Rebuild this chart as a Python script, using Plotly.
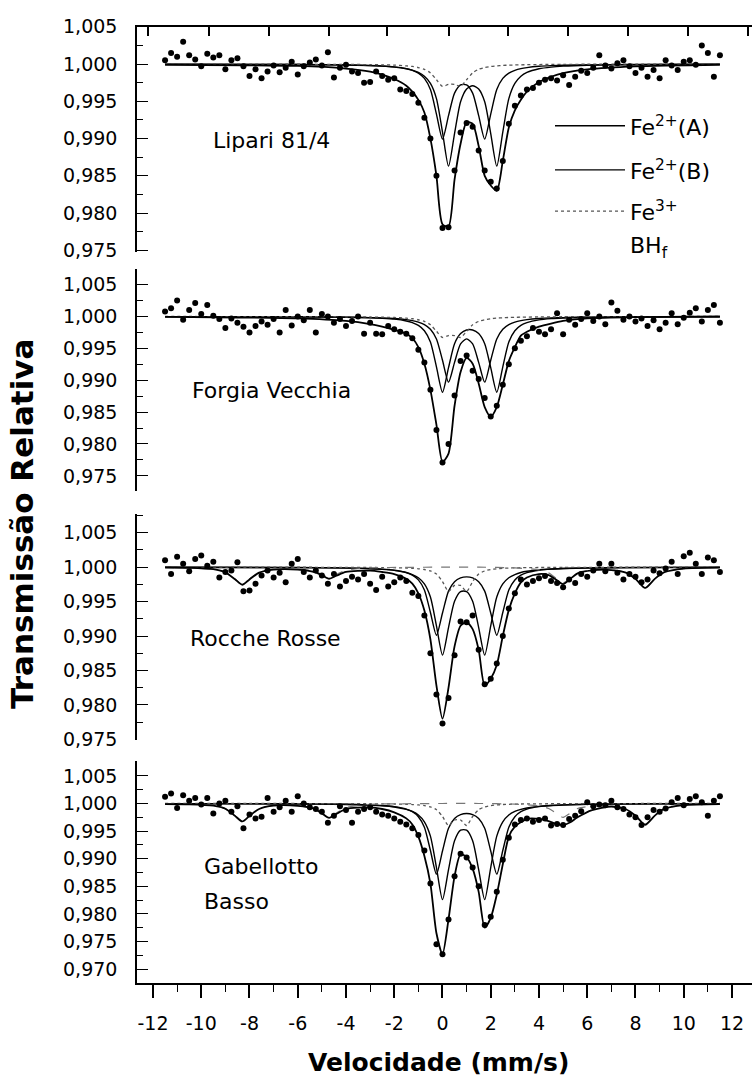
import plotly.graph_objects as go

# ---------------- data ----------------
VEL = [-11.5, -11.25, -11.0, -10.75, -10.5, -10.25, -10.0, -9.75, -9.5, -9.25, -9.0, -8.75,
       -8.5, -8.25, -8.0, -7.75, -7.5, -7.25, -7.0, -6.75, -6.5, -6.25, -6.0, -5.75,
       -5.5, -5.25, -5.0, -4.75, -4.5, -4.25, -4.0, -3.75, -3.5, -3.25, -3.0, -2.75,
       -2.5, -2.25, -2.0, -1.75, -1.5, -1.25, -1.0, -0.75, -0.5, -0.25, 0.0, 0.25,
       0.5, 0.75, 1.0, 1.25, 1.5, 1.75, 2.0, 2.25, 2.5, 2.75, 3.0, 3.25,
       3.5, 3.75, 4.0, 4.25, 4.5, 4.75, 5.0, 5.25, 5.5, 5.75, 6.0, 6.25,
       6.5, 6.75, 7.0, 7.25, 7.5, 7.75, 8.0, 8.25, 8.5, 8.75, 9.0, 9.25,
       9.5, 9.75, 10.0, 10.25, 10.5, 10.75, 11.0, 11.25, 11.5]

P1_DATA = [1.0005, 1.0015, 1.0010, 1.0030, 1.0012, 1.0006, 0.9997, 1.0014,
           1.0009, 1.0012, 0.9993, 1.0005, 1.0008, 0.9997, 0.9984, 0.9993,
           0.9981, 0.9990, 0.9998, 0.9989, 0.9995, 1.0003, 0.9986, 0.9997,
           1.0002, 1.0006, 0.9998, 1.0016, 0.9982, 0.9995, 0.9999, 0.9990,
           0.9988, 0.9975, 0.9976, 0.9990, 0.9984, 0.9979, 0.9981, 0.9966,
           0.9964, 0.9960, 0.9948, 0.9928, 0.9900, 0.9850, 0.9780, 0.9781,
           0.9857, 0.9908, 0.9921, 0.9916, 0.9884, 0.9857, 0.9842, 0.9833,
           0.9870, 0.9920, 0.9944, 0.9958, 0.9966, 0.9968, 0.9975, 0.9979,
           0.9981, 0.9978, 0.9985, 0.9972, 0.9983, 0.9991, 0.9988, 0.9995,
           1.0012, 0.9998, 0.9994, 1.0001, 1.0005, 0.9997, 0.9988, 0.9995,
           0.9983, 0.9992, 0.9981, 1.0005, 0.9998, 0.9992, 1.0003, 1.0005,
           0.9999, 1.0025, 1.0015, 0.9983, 1.0012]

P2_DATA = [1.0008, 1.0013, 1.0025, 0.9995, 1.0010, 1.0021, 1.0004, 1.0018,
           1.0001, 0.9996, 0.9982, 0.9997, 0.9990, 0.9984, 0.9975, 0.9985,
           0.9992, 0.9987, 0.9996, 0.9975, 1.0010, 0.9986, 1.0000, 0.9994,
           1.0010, 0.9975, 1.0004, 1.0000, 0.9990, 0.9996, 0.9985, 0.9993,
           1.0000, 0.9973, 0.9990, 0.9973, 0.9972, 0.9985, 0.9980, 0.9976,
           0.9973, 0.9966, 0.9948, 0.9928, 0.9885, 0.9822, 0.9771, 0.9800,
           0.9876, 0.9930, 0.9939, 0.9915, 0.9902, 0.9872, 0.9843, 0.9860,
           0.9893, 0.9925, 0.9950, 0.9962, 0.9969, 0.9982, 0.9976, 0.9972,
           0.9980, 1.0005, 0.9972, 0.9995, 0.9987, 0.9996, 1.0005, 0.9993,
           1.0000, 0.9988, 1.0022, 1.0009, 0.9995, 1.0000, 0.9992, 0.9997,
           0.9985, 0.9994, 0.9980, 0.9990, 1.0005, 0.9988, 0.9998, 1.0006,
           1.0013, 0.9992, 1.0010, 1.0018, 0.9990]

P3_DATA = [1.0010, 0.9990, 1.0015, 1.0005, 0.9994, 1.0012, 1.0017, 1.0002,
           1.0008, 0.9985, 0.9993, 0.9995, 1.0007, 0.9965, 0.9966, 0.9976,
           0.9988, 0.9995, 0.9985, 0.9992, 0.9978, 1.0005, 1.0012, 0.9993,
           0.9985, 0.9995, 0.9988, 0.9976, 0.9990, 0.9972, 0.9980, 0.9986,
           0.9982, 0.9990, 0.9976, 0.9967, 0.9986, 0.9972, 0.9978, 0.9985,
           0.9980, 0.9963, 0.9958, 0.9930, 0.9875, 0.9815, 0.9773, 0.9810,
           0.9872, 0.9921, 0.9920, 0.9930, 0.9880, 0.9830, 0.9838, 0.9860,
           0.9900, 0.9940, 0.9962, 0.9982, 0.9975, 0.9980, 0.9984, 0.9987,
           0.9980, 0.9977, 0.9971, 0.9982, 0.9977, 0.9990, 0.9986, 0.9995,
           1.0005, 0.9994, 1.0005, 0.9992, 0.9982, 0.9990, 0.9986, 0.9978,
           0.9982, 0.9995, 0.9991, 0.9998, 1.0008, 0.9990, 1.0016, 1.0021,
           1.0005, 0.9990, 1.0014, 1.0010, 0.9993]

P4_DATA = [1.0012, 1.0018, 0.9992, 1.0015, 1.0005, 1.0010, 0.9998, 1.0010,
           0.9982, 1.0000, 1.0005, 0.9985, 0.9995, 0.9955, 0.9980, 0.9973,
           0.9976, 1.0010, 0.9985, 0.9993, 1.0005, 0.9985, 1.0013, 1.0000,
           0.9993, 0.9990, 0.9985, 0.9965, 0.9978, 0.9995, 0.9988, 0.9965,
           0.9985, 0.9990, 0.9993, 0.9985, 0.9980, 0.9978, 0.9973, 0.9967,
           0.9962, 0.9955, 0.9943, 0.9915, 0.9855, 0.9745, 0.9727, 0.9790,
           0.9868, 0.9909, 0.9902, 0.9884, 0.9850, 0.9780, 0.9795, 0.9840,
           0.9898, 0.9938, 0.9962, 0.9970, 0.9973, 0.9967, 0.9970, 0.9973,
           0.9960, 0.9963, 0.9961, 0.9972, 0.9978, 0.9986, 1.0002, 0.9995,
           0.9998, 0.9997, 1.0005, 0.9993, 0.9990, 0.9980, 0.9975, 0.9961,
           0.9975, 0.9988, 0.9985, 0.9991, 1.0002, 1.0010, 0.9997, 1.0008,
           1.0013, 1.0002, 0.9978, 1.0005, 1.0013]

# velocities at which the fitted curves were read
CURVE_V = [-11.5, -6, -4, -3, -2.5, -2, -1.5, -1.25, -1, -0.75, -0.5, -0.25, 0,
           0.25, 0.5, 0.75, 1, 1.25, 1.5, 1.75, 2, 2.25, 2.5, 2.75, 3, 3.25, 3.5,
           4, 4.5, 5, 6, 8, 11.5]
BHF_V = [-11.5, -10.5, -9.5, -9.0, -8.6, -8.3, -8.0, -7.6, -7.0, -6.0, -5.3, -5.0,
         -4.7, -4.4, -4.0, -3.0, -1.5, 0.0, 1.5, 3.0, 4.0, 4.4, 4.7, 5.0, 5.3, 5.6,
         6.2, 7.0, 7.6, 8.0, 8.4, 8.8, 9.2, 10.0, 11.5]
TOT34_V = [-11.5, -10.5, -9.5, -9.0, -8.6, -8.3, -8.0, -7.6, -7.0, -6.0, -5.3, -5.0,
           -4.7, -4.4, -4.0, -3.0, -2.5, -2.0, -1.5, -1.25, -1.0, -0.75, -0.5, -0.25,
           0.0, 0.25, 0.5, 0.75, 1.0, 1.25, 1.5, 1.75, 2.0, 2.25, 2.5, 2.75, 3.0,
           3.25, 3.5, 4.0, 4.4, 4.7, 5.0, 5.3, 5.6, 6.2, 7.0, 7.6, 8.0, 8.4, 8.8,
           9.2, 10.0, 11.5]

# Lipari 81/4
P1_TOTAL = [0.9999, 0.99975, 0.9994, 0.9990, 0.9986, 0.9980, 0.9971, 0.9963, 0.9952,
            0.9935, 0.9900, 0.9850, 0.9785, 0.9782, 0.9845, 0.9893, 0.9922, 0.9920,
            0.9890, 0.9850, 0.9837, 0.9830, 0.9870, 0.9915, 0.9938, 0.9952, 0.9963,
            0.9976, 0.9983, 0.9988, 0.9993, 0.9997, 0.9999]
P1_A = [0.99998, 0.99994, 0.99987, 0.99979, 0.99972, 0.9996, 0.99937, 0.99918, 0.99888,
        0.99837, 0.99741, 0.99537, 0.99088, 0.9863, 0.99068, 0.99494, 0.99665, 0.9971,
        0.99665, 0.99494, 0.99068, 0.9863, 0.99088, 0.99537, 0.99741, 0.99837, 0.99888,
        0.99937, 0.9996, 0.99972, 0.99984, 0.99992, 0.99997]
P1_B = [0.99998, 0.99995, 0.99989, 0.99982, 0.99975, 0.99963, 0.99939, 0.99916, 0.99879,
        0.99808, 0.99658, 0.99329, 0.98993, 0.99308, 0.9961, 0.99721, 0.99721, 0.9961,
        0.99308, 0.98993, 0.99329, 0.99658, 0.99808, 0.99879, 0.99916, 0.99939, 0.99953,
        0.9997, 0.99979, 0.99984, 0.9999, 0.99995, 0.99998]
P1_FE3 = [1.0, 0.99998, 0.99996, 0.99993, 0.9999, 0.99986, 0.99976, 0.99968, 0.99954,
          0.9993, 0.99882, 0.9979, 0.99701, 0.99728, 0.99728, 0.99701, 0.9979, 0.99882,
          0.9993, 0.99954, 0.99968, 0.99976, 0.99982, 0.99986, 0.99988, 0.9999, 0.99992,
          0.99994, 0.99995, 0.99996, 0.99998, 0.99999, 1.0]

# Forgia Vecchia
P2_TOTAL = [0.99995, 0.9997, 0.9993, 0.9988, 0.9984, 0.9979, 0.9973, 0.9966, 0.9952,
            0.9926, 0.9885, 0.9830, 0.9772, 0.9785, 0.9860, 0.9913, 0.9935, 0.9926,
            0.9895, 0.9858, 0.9843, 0.9858, 0.9893, 0.9930, 0.9952, 0.9970, 0.9976,
            0.9984, 0.9989, 0.9993, 0.9997, 0.9999, 1.0]
P2_A = [0.99998, 0.99994, 0.99988, 0.99979, 0.99971, 0.99958, 0.9993, 0.99904, 0.9986,
        0.99777, 0.996, 0.9921, 0.98812, 0.99197, 0.99573, 0.99732, 0.99789, 0.99789,
        0.99732, 0.99573, 0.99197, 0.98812, 0.9921, 0.996, 0.99777, 0.9986, 0.99904,
        0.99947, 0.99966, 0.99976, 0.99986, 0.99994, 0.99997]
P2_B = [0.99998, 0.99995, 0.9999, 0.99983, 0.99978, 0.99968, 0.99951, 0.99936, 0.99913,
        0.99874, 0.99801, 0.99648, 0.99314, 0.9897, 0.9928, 0.99571, 0.99649, 0.99571,
        0.9928, 0.9897, 0.99314, 0.99648, 0.99801, 0.99874, 0.99913, 0.99936, 0.99951,
        0.99968, 0.99978, 0.99983, 0.9999, 0.99995, 0.99998]
P2_FE3 = [1.0, 0.99998, 0.99996, 0.99992, 0.99989, 0.99985, 0.99974, 0.99965, 0.99949,
          0.99923, 0.9987, 0.99769, 0.99671, 0.99701, 0.99701, 0.99671, 0.99769, 0.9987,
          0.99923, 0.99949, 0.99965, 0.99974, 0.9998, 0.99985, 0.99987, 0.99989, 0.99991,
          0.99993, 0.99995, 0.99996, 0.99998, 0.99999, 1.0]

# Rocche Rosse
P3_TOTAL = [0.99993, 0.9999, 0.9997, 0.99925, 0.99825, 0.99745, 0.99822, 0.9992, 0.99965,
            0.99965, 0.99928, 0.99882, 0.99832, 0.99875, 0.9993, 0.9995, 0.9993, 0.9990,
            0.9983, 0.9976, 0.9962, 0.9937, 0.9895, 0.9828, 0.9780, 0.9825, 0.9885,
            0.9915, 0.9920, 0.9910, 0.9880, 0.9828, 0.9838, 0.9858, 0.9900, 0.9938,
            0.9962, 0.9978, 0.9985, 0.9990, 0.99885, 0.9982, 0.99755, 0.9983, 0.9991,
            0.99955, 0.99958, 0.9992, 0.9983, 0.99698, 0.9983, 0.99927, 0.9998, 0.99994]
P3_A = [0.99998, 0.99994, 0.99986, 0.99977, 0.99968, 0.99953, 0.99923, 0.99893, 0.99847,
        0.99757, 0.99566, 0.99149, 0.98723, 0.99123, 0.99505, 0.99646, 0.99646, 0.99505,
        0.99123, 0.98723, 0.99149, 0.99566, 0.99757, 0.99847, 0.99893, 0.99923, 0.9994,
        0.99962, 0.99973, 0.9998, 0.99987, 0.99994, 0.99997]
P3_B = [0.99998, 0.99995, 0.99989, 0.9998, 0.99972, 0.99956, 0.99921, 0.99885, 0.99815,
        0.99668, 0.99342, 0.99011, 0.99335, 0.99652, 0.99789, 0.99844, 0.99859, 0.99844,
        0.99789, 0.99652, 0.99335, 0.99011, 0.99342, 0.99668, 0.99815, 0.99885, 0.99921,
        0.99956, 0.99972, 0.9998, 0.99989, 0.99995, 0.99998]
P3_FE3 = [1.0, 0.99999, 0.99997, 0.99996, 0.99994, 0.99992, 0.99987, 0.99983, 0.99976,
          0.99966, 0.99945, 0.99901, 0.99791, 0.99647, 0.99735, 0.99735, 0.99647, 0.99791,
          0.99901, 0.99945, 0.99966, 0.99976, 0.99983, 0.99987, 0.9999, 0.99992, 0.99993,
          0.99995, 0.99996, 0.99997, 0.99998, 0.99999, 1.0]
P3_BHF = [0.99995, 0.9999, 0.9997, 0.99927, 0.99827, 0.9975, 0.99827, 0.99927, 0.99973,
          0.99974, 0.99941, 0.99896, 0.9985, 0.99896, 0.99956, 0.9999, 0.99997, 1.0, 1.0,
          0.99989, 0.99961, 0.99917, 0.99841, 0.9977, 0.99841, 0.99917, 0.9996, 0.99961,
          0.99921, 0.99832, 0.997, 0.99832, 0.99928, 0.9998, 0.99994]

# Gabellotto Basso
P4_TOTAL = [0.9999, 0.99985, 0.9996, 0.99905, 0.99775, 0.99675, 0.99775, 0.999, 0.9996,
            0.99955, 0.999, 0.9982, 0.9974, 0.9981, 0.999, 0.9993, 0.999, 0.9984,
            0.9973, 0.9962, 0.9940, 0.9905, 0.9855, 0.9765, 0.9727, 0.9790, 0.9868,
            0.9908, 0.9903, 0.9882, 0.9840, 0.9775, 0.9793, 0.9835, 0.9890, 0.9940,
            0.9958, 0.9966, 0.9972, 0.9972, 0.9968, 0.9963, 0.9961, 0.9966, 0.9975,
            0.9988, 0.99945, 0.99895, 0.9978, 0.99615, 0.9978, 0.99905, 0.9997, 0.9999]
P4_A = [0.99997, 0.99991, 0.99981, 0.99969, 0.99957, 0.99936, 0.99894, 0.99855, 0.99791,
        0.99668, 0.99408, 0.98839, 0.98258, 0.98803, 0.99325, 0.99517, 0.99517, 0.99325,
        0.98803, 0.98258, 0.98839, 0.99408, 0.99668, 0.99791, 0.99855, 0.99894, 0.99919,
        0.99948, 0.99964, 0.99972, 0.99983, 0.99991, 0.99997]
P4_B = [0.99998, 0.99994, 0.99986, 0.99974, 0.99964, 0.99943, 0.99898, 0.99851, 0.99761,
        0.9957, 0.99149, 0.9872, 0.99139, 0.9955, 0.99727, 0.99798, 0.99818, 0.99798,
        0.99727, 0.9955, 0.99139, 0.9872, 0.99149, 0.9957, 0.99761, 0.99851, 0.99898,
        0.99943, 0.99964, 0.99974, 0.99986, 0.99994, 0.99997]
P4_FE3 = [1.0, 0.99999, 0.99997, 0.99995, 0.99993, 0.99991, 0.99985, 0.99981, 0.99973,
          0.99962, 0.99938, 0.99888, 0.99764, 0.99601, 0.99701, 0.99701, 0.99601, 0.99764,
          0.99888, 0.99938, 0.99962, 0.99973, 0.99981, 0.99985, 0.99989, 0.99991, 0.99992,
          0.99994, 0.99995, 0.99997, 0.99998, 0.99999, 1.0]
P4_BHF = [0.99994, 0.99987, 0.99962, 0.99907, 0.99779, 0.9968, 0.99779, 0.99907, 0.99965,
          0.9996, 0.99904, 0.99826, 0.9975, 0.99826, 0.99927, 0.99983, 0.99995, 1.0, 1.0,
          0.99988, 0.99957, 0.9991, 0.99827, 0.9975, 0.99827, 0.9991, 0.99954, 0.99952,
          0.99901, 0.99787, 0.9962, 0.99787, 0.99909, 0.99975, 0.99992]

SAMPLES = [["Lipari 81/4"], ["Forgia Vecchia"], ["Rocche Rosse"], ["Gabellotto", "Basso"]]
X_TICKS = [-12, -10, -8, -6, -4, -2, 0, 2, 4, 6, 8, 10, 12]
X_TICK_TEXT = ["-12", "-10", "-8", "-6", "-4", "-2", "0", "2", "4", "6", "8", "10", "12"]
TOP_TICKS = [-12.22, -9.69, -7.2, -4.72, -2.31, 0.26, 2.71, 5.2, 7.69, 10.18, 12.67]
LEGEND_LABELS = ["Fe<sup>2+</sup>(A)", "Fe<sup>2+</sup>(B)", "Fe<sup>3+</sup>", "BH<sub>f</sub>"]

# ---------------- layout helpers ----------------
W, H = 752, 1092
FONT = "DejaVu Sans"


def fx(px):
    return px / W


def fy(py):
    return 1 - py / H


panels = [
    dict(ax="y", data=P1_DATA, tx=CURVE_V, total=P1_TOTAL, comps=[P1_A, P1_B], fe3=P1_FE3,
         bhf=None, top=16, bottom=246, rng=[0.97474, 1.00502], lab=(211, [132])),
    dict(ax="y2", data=P2_DATA, tx=CURVE_V, total=P2_TOTAL, comps=[P2_A, P2_B], fe3=P2_FE3,
         bhf=None, top=263, bottom=489, rng=[0.97269, 1.00746], lab=(190, [387])),
    dict(ax="y3", data=P3_DATA, tx=TOT34_V, total=P3_TOTAL, comps=[P3_A, P3_B], fe3=P3_FE3,
         bhf=P3_BHF, top=513, bottom=743, rng=[0.97495, 1.0077], lab=(188, [640])),
    dict(ax="y4", data=P4_DATA, tx=TOT34_V, total=P4_TOTAL, comps=[P4_A, P4_B], fe3=P4_FE3,
         bhf=P4_BHF, top=765, bottom=991, rng=[0.9675, 1.00764], lab=(202, [872, 908])),
]

fig = go.Figure()
for p in panels:
    for comp in p["comps"]:
        fig.add_trace(go.Scatter(x=CURVE_V, y=comp, mode="lines", yaxis=p["ax"],
                                 line=dict(color="black", width=1.4, shape="spline", smoothing=0.7),
                                 showlegend=False, hoverinfo="skip"))
    fig.add_trace(go.Scatter(x=CURVE_V, y=p["fe3"], mode="lines", yaxis=p["ax"],
                             line=dict(color="#555555", width=1.3, dash="dot", shape="spline", smoothing=0.7),
                             showlegend=False, hoverinfo="skip"))
    if p["bhf"] is not None:
        fig.add_trace(go.Scatter(x=BHF_V, y=p["bhf"], mode="lines", yaxis=p["ax"],
                                 line=dict(color="#777777", width=1.2, dash="dash", shape="spline", smoothing=0.7),
                                 showlegend=False, hoverinfo="skip"))
    fig.add_trace(go.Scatter(x=VEL, y=p["data"], mode="markers", yaxis=p["ax"],
                             marker=dict(color="black", size=6, symbol="circle"),
                             showlegend=False, hoverinfo="skip"))
    fig.add_trace(go.Scatter(x=p["tx"], y=p["total"], mode="lines", yaxis=p["ax"],
                             line=dict(color="black", width=1.8, shape="spline", smoothing=0.7),
                             showlegend=False, hoverinfo="skip"))

# invisible trace so the top axis of the first panel is created
fig.add_trace(go.Scatter(x=[None], y=[None], xaxis="x2", yaxis="y", showlegend=False,
                         hoverinfo="skip"))

xr = [-12.663, 12.83]
layout = dict(
    width=W, height=H, margin=dict(l=0, r=0, t=0, b=0),
    paper_bgcolor="white", plot_bgcolor="white",
    separators=",.",
    font=dict(family=FONT, color="black", size=19),
    xaxis=dict(domain=[fx(137), 1], range=xr, anchor="y4", tickmode="array", tickvals=X_TICKS,
               ticktext=X_TICK_TEXT,
               ticks="outside", ticklen=13, tickwidth=1.5, tickcolor="black",
               minor=dict(dtick=1, tick0=-12, ticks="outside", ticklen=7, tickwidth=1.3, tickcolor="black"),
               showline=True, linewidth=1.5, linecolor="black", showgrid=False, zeroline=False,
               tickfont=dict(family=FONT, size=19, color="black"), ticklabelstandoff=10),
    xaxis2=dict(overlaying="x", anchor="y", side="top", range=xr, domain=[fx(137), 1],
                tickmode="array", tickvals=TOP_TICKS, ticks="inside", ticklen=10, tickwidth=1.5,
                tickcolor="black", showticklabels=False, showline=True, linewidth=1.5,
                linecolor="black", showgrid=False, zeroline=False),
)
for i, p in enumerate(panels):
    key = "yaxis" if i == 0 else f"yaxis{i + 1}"
    layout[key] = dict(domain=[fy(p["bottom"]), fy(p["top"])], range=p["rng"], anchor="x",
                       tickmode="linear", tick0=1.0, dtick=0.005, tickformat=".3f",
                       ticks="inside", ticklen=11, tickwidth=1.4, tickcolor="black",
                       minor=dict(dtick=0.0025, tick0=1.0, ticks="inside", ticklen=6,
                                  tickwidth=1.2, tickcolor="black"),
                       showline=True, linewidth=1.5, linecolor="black", showgrid=False,
                       zeroline=False, tickfont=dict(family=FONT, size=19, color="black"),
                       ticklabelstandoff=14)
fig.update_layout(**layout)

ann = []
for p, lines in zip(panels, SAMPLES):
    for txt, yy in zip(lines, p["lab"][1]):
        ann.append(dict(x=fx(p["lab"][0]), y=fy(yy), xref="paper", yref="paper",
                        text=txt, showarrow=False, xanchor="left", yanchor="middle",
                        font=dict(family=FONT, size=22, color="black")))
# legend texts
leg_y = [117, 162, 204, 241]
for lbl, yy in zip(LEGEND_LABELS, leg_y):
    ann.append(dict(x=fx(628), y=fy(yy), xref="paper", yref="paper", text=lbl, showarrow=False,
                    xanchor="left", yanchor="middle", font=dict(family=FONT, size=22, color="black")))
# axis titles
ann.append(dict(x=fx(22), y=fy(523), xref="paper", yref="paper", text="<b>Transmissão Relativa</b>",
                showarrow=False, textangle=-90, xanchor="center", yanchor="middle",
                font=dict(family=FONT, size=31, color="black")))
ann.append(dict(x=fx(438), y=fy(1072), xref="paper", yref="paper", text="<b>Velocidade (mm/s)</b>",
                showarrow=False, xanchor="center", yanchor="middle",
                font=dict(family=FONT, size=25, color="black")))
fig.update_layout(annotations=ann)

# legend sample lines
shapes = []
leg_styles = [dict(color="black", width=1.4), dict(color="black", width=1.4),
              dict(color="#555555", width=1.3, dash="dot")]
for st, yy in zip(leg_styles, leg_y[:3]):
    shapes.append(dict(type="line", xref="paper", yref="paper", x0=fx(555), x1=fx(625),
                       y0=fy(yy), y1=fy(yy), line=st))
fig.update_layout(shapes=shapes)

fig.write_html("out.html")
